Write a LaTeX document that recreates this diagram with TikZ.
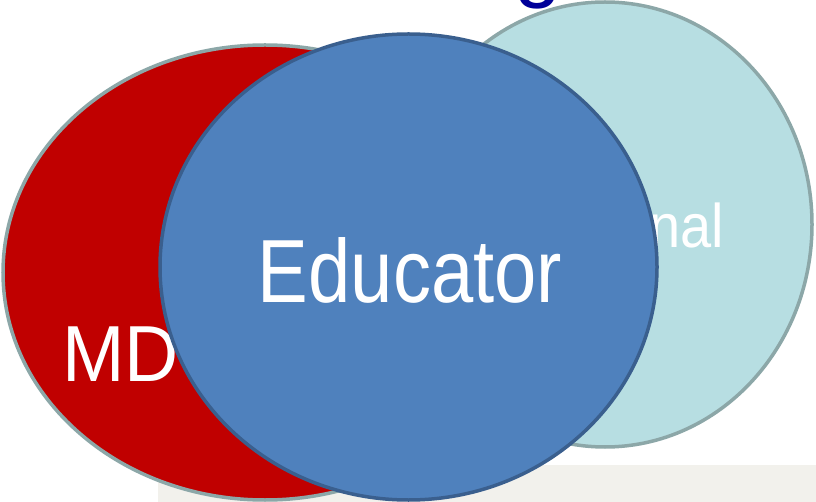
\documentclass[tikz,border=0pt]{standalone}
\usepackage{fontspec}
\setmainfont{Liberation Sans}
\definecolor{mdred}{HTML}{C00000}
\definecolor{edublue}{HTML}{4F81BD}
\definecolor{eduedge}{HTML}{3A5F8E}
\definecolor{proteal}{HTML}{B7DEE2}
\definecolor{rimgray}{HTML}{8CA7A8}
\definecolor{titleblue}{HTML}{000099}
\definecolor{bandgray}{HTML}{F2F1EC}
\tikzset{
  circlabel/.style={text=white, inner sep=0pt},
  rim/.style={line width=3.5pt}
}
\newcommand{\bigtext}[3]{\fontsize{#1}{#1}\selectfont\scalebox{1}[#2]{#3}}
\begin{document}
\begin{tikzpicture}[x=1pt, y=-1pt]
  \useasboundingbox (0,0) rectangle (816,502);

  % Define centres of the three sets
  \coordinate (mdc) at (265,272.5);
  \coordinate (proc) at (605,224.5);
  \coordinate (educ) at (408.5,267);

  % Grey band at the bottom
  \fill[bandgray] (158,465) rectangle (816,502);

  % Draw the sets, back to front
  \draw[rim, draw=rimgray, fill=mdred] (mdc) ellipse [x radius=262, y radius=227.5];
  \node[circlabel, anchor=base west] (md) at (62,381) {\bigtext{75}{1.06}{MD}};
  \draw[rim, draw=rimgray, fill=proteal] (proc) ellipse [x radius=207, y radius=222.5];
  \node[circlabel, anchor=base east] (pro) at (724,248) {\bigtext{56}{1.1}{nal}};
  \draw[rim, draw=eduedge, fill=edublue] (educ) ellipse [x radius=248.5, y radius=233];
  \node[circlabel, anchor=base] (edu) at (410,303) {\bigtext{76}{1.18}{Educator}};

  % Cut-off title letter
  \node[text=titleblue, inner sep=0pt, anchor=base west] (title) at (514,-8) {\bigtext{85}{1}{g}};
\end{tikzpicture}
\end{document}
